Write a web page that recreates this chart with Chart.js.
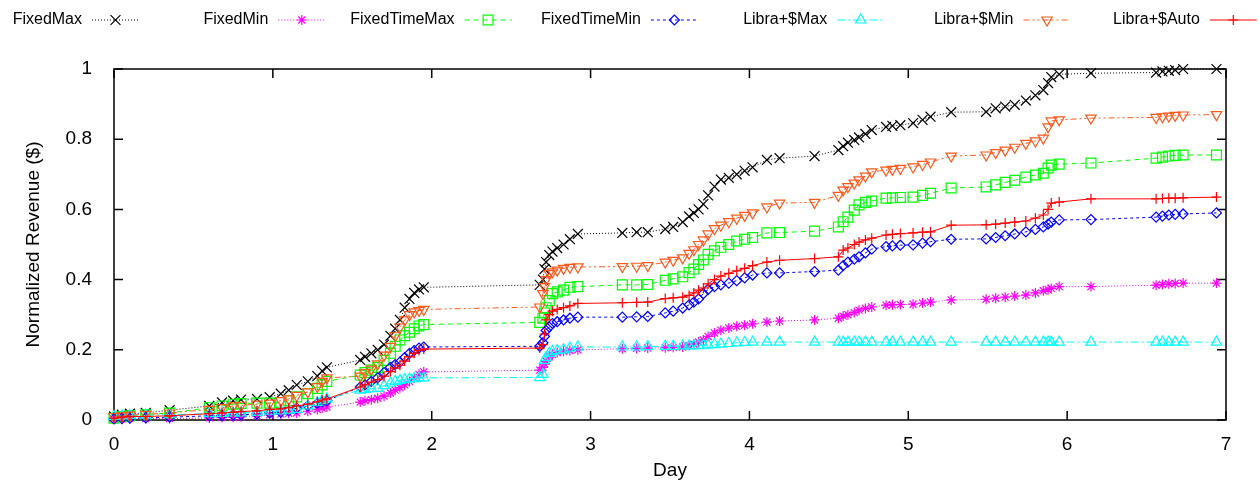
<!DOCTYPE html>
<html>
<head>
<meta charset="utf-8">
<script src="https://cdn.jsdelivr.net/npm/chart.js@4/dist/chart.umd.min.js"></script>
<style>
  html, body { margin: 0; padding: 0; background: #ffffff; }
  #wrap { width: 1260px; height: 484px; }
</style>
</head>
<body>
<div id="wrap"><canvas id="revenue" width="1260" height="484"></canvas></div>
<script>
// Time of each revenue sample (days since start)
const days = [
  0, 0.05, 0.1, 0.2, 0.35, 0.6, 0.68, 0.75, 0.8, 0.9,
  0.98, 1.05, 1.1, 1.15, 1.22, 1.28, 1.31, 1.34, 1.55, 1.58,
  1.62, 1.66, 1.7, 1.74, 1.77, 1.8, 1.83, 1.86, 1.89, 1.92,
  1.95, 2.68, 2.7, 2.71, 2.72, 2.74, 2.76, 2.79, 2.83, 2.87,
  2.92, 3.2, 3.29, 3.36, 3.47, 3.52, 3.58, 3.62, 3.65, 3.68,
  3.71, 3.74, 3.78, 3.82, 3.87, 3.92, 3.97, 4.02, 4.11, 4.19,
  4.41, 4.56, 4.59, 4.62, 4.66, 4.69, 4.73, 4.77, 4.86, 4.9,
  4.95, 5.03, 5.09, 5.14, 5.27, 5.49, 5.55, 5.61, 5.67, 5.74,
  5.8, 5.85, 5.88, 5.9, 5.95, 6.15, 6.56, 6.6, 6.64, 6.68,
  6.73, 6.94
];

// Cumulative normalized revenue per policy
const fixedMax = [
  0.01, 0.015, 0.018, 0.02, 0.028, 0.04, 0.05, 0.055, 0.058, 0.06,
  0.065, 0.075, 0.085, 0.1, 0.11, 0.125, 0.14, 0.15, 0.171, 0.18,
  0.19, 0.2, 0.215, 0.24, 0.26, 0.285, 0.32, 0.345, 0.362, 0.372,
  0.378, 0.385, 0.4, 0.43, 0.45, 0.47, 0.48, 0.49, 0.5, 0.515,
  0.53, 0.533, 0.535, 0.535, 0.544, 0.55, 0.564, 0.58, 0.59, 0.6,
  0.615, 0.64, 0.665, 0.685, 0.69, 0.7, 0.71, 0.72, 0.741, 0.746,
  0.752, 0.769, 0.78, 0.79, 0.798, 0.805, 0.815, 0.826, 0.835, 0.838,
  0.84, 0.846, 0.855, 0.864, 0.877, 0.878, 0.888, 0.893, 0.898, 0.91,
  0.925, 0.94, 0.96, 0.977, 0.985, 0.988, 0.99, 0.993, 0.995, 0.997,
  1.0, 1.0
];
const fixedMin = [
  0.003, 0.003, 0.004, 0.004, 0.004, 0.006, 0.007, 0.008, 0.009, 0.012,
  0.015, 0.017, 0.019, 0.02, 0.025, 0.03, 0.034, 0.037, 0.051, 0.055,
  0.058, 0.062, 0.068, 0.077, 0.085, 0.092, 0.1, 0.11, 0.12, 0.13,
  0.137, 0.142, 0.15, 0.16, 0.168, 0.18, 0.187, 0.192, 0.196, 0.198,
  0.2, 0.203, 0.204, 0.205, 0.206, 0.207, 0.208, 0.212, 0.216, 0.222,
  0.228, 0.238, 0.248, 0.256, 0.262, 0.267, 0.27, 0.274, 0.279, 0.282,
  0.285, 0.29, 0.296, 0.3, 0.306, 0.313, 0.318, 0.322, 0.327, 0.328,
  0.329, 0.33, 0.333, 0.336, 0.342, 0.344, 0.347, 0.35, 0.353, 0.356,
  0.362, 0.368, 0.372, 0.375, 0.38, 0.38, 0.384, 0.386, 0.388, 0.389,
  0.39, 0.39
];
const fixedTimeMax = [
  0.005, 0.01, 0.012, 0.015, 0.02, 0.035, 0.04, 0.045, 0.047, 0.048,
  0.048, 0.05, 0.055, 0.066, 0.075, 0.09, 0.1, 0.11, 0.128, 0.135,
  0.142, 0.15, 0.17, 0.19, 0.21, 0.228, 0.24, 0.25, 0.26, 0.268,
  0.272, 0.278, 0.29, 0.305, 0.32, 0.34, 0.36, 0.365, 0.37, 0.378,
  0.38, 0.385, 0.385, 0.386, 0.398, 0.402, 0.408, 0.42, 0.43, 0.443,
  0.456, 0.472, 0.482, 0.492, 0.5, 0.51, 0.515, 0.52, 0.533, 0.534,
  0.538, 0.55, 0.565, 0.578, 0.598, 0.613, 0.62, 0.624, 0.632, 0.633,
  0.634, 0.635, 0.64, 0.646, 0.661, 0.664, 0.67, 0.677, 0.683, 0.692,
  0.698, 0.703, 0.718, 0.726, 0.729, 0.732, 0.746, 0.749, 0.752, 0.754,
  0.755, 0.755
];
const fixedTimeMin = [
  0.003, 0.004, 0.005, 0.006, 0.008, 0.012, 0.013, 0.014, 0.015, 0.017,
  0.02, 0.022, 0.026, 0.034, 0.04, 0.048, 0.052, 0.055, 0.094, 0.1,
  0.11, 0.12, 0.135, 0.15, 0.158, 0.165, 0.178, 0.19, 0.198, 0.205,
  0.208, 0.21, 0.22, 0.238, 0.255, 0.265, 0.275, 0.28, 0.285, 0.29,
  0.293, 0.293, 0.294, 0.295, 0.305, 0.31, 0.319, 0.328, 0.336, 0.345,
  0.36, 0.372, 0.38, 0.385, 0.39, 0.397, 0.405, 0.413, 0.419, 0.419,
  0.423, 0.427, 0.44, 0.45, 0.458, 0.465, 0.476, 0.487, 0.494, 0.496,
  0.498, 0.499, 0.504, 0.508, 0.515, 0.516, 0.52, 0.525, 0.53, 0.536,
  0.543, 0.55, 0.558, 0.564, 0.57, 0.571, 0.578, 0.581, 0.584, 0.586,
  0.587, 0.59
];
const libraMax = [
  0.01, 0.012, 0.013, 0.014, 0.015, 0.018, 0.019, 0.02, 0.02, 0.022,
  0.025, 0.026, 0.028, 0.03, 0.04, 0.05, 0.055, 0.06, 0.085, 0.087,
  0.089, 0.09, 0.098, 0.105, 0.11, 0.113, 0.115, 0.117, 0.118, 0.12,
  0.12, 0.121, 0.13, 0.17, 0.178, 0.19, 0.195, 0.198, 0.2, 0.205,
  0.208, 0.208, 0.208, 0.209, 0.21, 0.21, 0.211, 0.211, 0.212, 0.212,
  0.213, 0.214, 0.215, 0.216, 0.218, 0.22, 0.221, 0.222, 0.222, 0.222,
  0.222, 0.222, 0.222, 0.222, 0.222, 0.222, 0.222, 0.222, 0.222, 0.222,
  0.222, 0.222, 0.222, 0.222, 0.222, 0.222, 0.222, 0.222, 0.222, 0.222,
  0.222, 0.222, 0.222, 0.222, 0.222, 0.222, 0.222, 0.222, 0.222, 0.222,
  0.222, 0.222
];
const libraMin = [
  0.01, 0.012, 0.014, 0.016, 0.02, 0.03, 0.035, 0.04, 0.042, 0.045,
  0.048, 0.055, 0.06, 0.07, 0.08, 0.095, 0.11, 0.12, 0.125, 0.135,
  0.145, 0.16, 0.185, 0.21, 0.24, 0.265, 0.285, 0.3, 0.308, 0.312,
  0.315, 0.322, 0.36, 0.38, 0.4, 0.418, 0.422, 0.427, 0.432, 0.435,
  0.436, 0.437, 0.438, 0.44, 0.45, 0.455, 0.462, 0.475, 0.485, 0.5,
  0.513, 0.53, 0.545, 0.555, 0.565, 0.575, 0.583, 0.59, 0.607, 0.618,
  0.62, 0.64, 0.655, 0.665, 0.675, 0.684, 0.695, 0.707, 0.712, 0.714,
  0.717, 0.721, 0.728, 0.735, 0.752, 0.755, 0.762, 0.769, 0.777, 0.788,
  0.795, 0.803, 0.835, 0.852, 0.855, 0.86, 0.862, 0.864, 0.866, 0.868,
  0.869, 0.87
];
const libraAuto = [
  0.005, 0.008, 0.01, 0.01, 0.012, 0.018, 0.02, 0.022, 0.024, 0.026,
  0.03, 0.032, 0.035, 0.04, 0.045, 0.052, 0.057, 0.06, 0.094, 0.1,
  0.108, 0.115, 0.125, 0.138, 0.148, 0.156, 0.168, 0.18, 0.19, 0.198,
  0.202, 0.205, 0.215, 0.245, 0.285, 0.3, 0.31, 0.315, 0.32, 0.325,
  0.332, 0.334, 0.335, 0.336, 0.346, 0.348, 0.35, 0.355, 0.362, 0.37,
  0.376, 0.388, 0.4, 0.41, 0.418, 0.425, 0.432, 0.44, 0.45, 0.455,
  0.46, 0.465, 0.484, 0.49, 0.5, 0.507, 0.513, 0.518, 0.527, 0.529,
  0.531, 0.533, 0.535, 0.536, 0.555, 0.556, 0.558, 0.561, 0.564, 0.567,
  0.575, 0.584, 0.6, 0.618, 0.621, 0.63, 0.63, 0.631, 0.632, 0.632,
  0.633, 0.635
];

const seriesNames = ['FixedMax', 'FixedMin', 'FixedTimeMax', 'FixedTimeMin', 'Libra+$Max', 'Libra+$Min', 'Libra+$Auto'];
const seriesValues = [fixedMax, fixedMin, fixedTimeMax, fixedTimeMin, libraMax, libraMin, libraAuto];

const xTickLabels = ['0', '1', '2', '3', '4', '5', '6', '7'];
const yTickLabels = ['0', '0.2', '0.4', '0.6', '0.8', '1'];

// Line and marker look of each policy
const seriesStyles = [
  { color: '#000000', dash: [1, 2],             marker: 'crossRot', radius: 7, rotation: 0 },
  { color: '#ff00ff', dash: [1, 2],             marker: 'star',     radius: 5, rotation: 0 },
  { color: '#00ff00', dash: [5, 4],             marker: 'rect',     radius: 7, rotation: 0 },
  { color: '#0000ff', dash: [3, 3],             marker: 'rectRot',  radius: 5, rotation: 0 },
  { color: '#00ffff', dash: [8, 3, 2, 3],       marker: 'triangle', radius: 6, rotation: 0 },
  { color: '#ff5a1e', dash: [6, 3, 2, 3, 2, 3], marker: 'triangle', radius: 6, rotation: 180 },
  { color: '#ff0000', dash: [],                 marker: 'cross',    radius: 5, rotation: 0 }
];

const FONT = '"Liberation Sans", Arial, Helvetica, sans-serif';
Chart.defaults.font.family = FONT;
Chart.defaults.color = '#000000';

const datasets = seriesNames.map((name, i) => {
  const st = seriesStyles[i];
  return {
    label: name,
    data: days.map((d, k) => ({ x: d, y: seriesValues[i][k] })),
    borderColor: st.color,
    borderWidth: 1,
    borderDash: st.dash,
    backgroundColor: 'rgba(0,0,0,0)',
    pointStyle: st.marker,
    pointRadius: st.radius,
    pointRotation: st.rotation,
    pointBorderColor: st.color,
    pointBackgroundColor: 'rgba(0,0,0,0)',
    pointBorderWidth: 1.2,
    tension: 0,
    fill: false,
    clip: false,
    order: seriesNames.length - i
  };
});

// Plot border with inward ticks on all four sides
const frame = {
  id: 'frame',
  beforeDatasetsDraw(chart) {
    const { ctx, chartArea: a, scales } = chart;
    const xs = scales.x, ys = scales.y;
    const len = 9;
    ctx.save();
    ctx.strokeStyle = '#000000';
    ctx.lineWidth = 1.5;
    ctx.setLineDash([]);
    ctx.strokeRect(a.left, a.top, a.right - a.left, a.bottom - a.top);
    ctx.beginPath();
    xs.ticks.forEach(t => {
      const px = xs.getPixelForValue(t.value);
      ctx.moveTo(px, a.bottom); ctx.lineTo(px, a.bottom - len);
      ctx.moveTo(px, a.top); ctx.lineTo(px, a.top + len);
    });
    ys.ticks.forEach(t => {
      const py = ys.getPixelForValue(t.value);
      ctx.moveTo(a.left, py); ctx.lineTo(a.left + len, py);
      ctx.moveTo(a.right, py); ctx.lineTo(a.right - len, py);
    });
    ctx.stroke();
    ctx.restore();
  }
};

// Single-row key above the plot: label, then a line sample with its marker
const keyRow = {
  id: 'keyRow',
  afterDraw(chart) {
    const ctx = chart.ctx;
    const firstEnd = 139, step = 186.3, sampleLen = 47, gap = 10, y = 20;
    chart.data.datasets.forEach((ds, i) => {
      const end = firstEnd + step * i;
      const start = end - sampleLen;
      ctx.save();
      ctx.font = '16px ' + FONT;
      ctx.fillStyle = '#000000';
      ctx.textAlign = 'right';
      ctx.textBaseline = 'middle';
      ctx.fillText(ds.label, start - gap, y);
      ctx.strokeStyle = ds.borderColor;
      ctx.lineWidth = 1;
      ctx.setLineDash(ds.borderDash);
      ctx.beginPath();
      ctx.moveTo(start, y);
      ctx.lineTo(end, y);
      ctx.stroke();
      ctx.setLineDash([]);
      ctx.lineWidth = 1.2;
      ctx.fillStyle = 'rgba(0,0,0,0)';
      Chart.helpers.drawPoint(ctx, {
        pointStyle: ds.pointStyle,
        radius: ds.pointRadius,
        rotation: ds.pointRotation,
        borderWidth: 1.2
      }, (start + end) / 2, y);
      ctx.restore();
    });
  }
};

new Chart(document.getElementById('revenue'), {
  type: 'line',
  data: { datasets },
  plugins: [frame, keyRow],
  options: {
    responsive: false,
    animation: false,
    devicePixelRatio: 1,
    layout: { padding: { left: 0, right: 34, top: 69, bottom: 0 } },
    plugins: { legend: { display: false }, tooltip: { enabled: false } },
    scales: {
      x: {
        type: 'linear',
        min: 0,
        max: 7,
        grid: { display: false },
        border: { display: false },
        ticks: {
          stepSize: 1,
          padding: 5,
          maxRotation: 0,
          font: { size: 19 },
          color: '#000000',
          callback: v => xTickLabels[Math.round(v)]
        },
        title: { display: true, text: 'Day', font: { size: 19 }, color: '#000000', padding: { top: 4, bottom: 2 } },
        afterFit(scale) { scale.height = 64; }
      },
      y: {
        type: 'linear',
        min: 0,
        max: 1,
        grid: { display: false },
        border: { display: false },
        ticks: {
          stepSize: 0.2,
          padding: 14,
          font: { size: 19 },
          color: '#000000',
          callback: v => yTickLabels[Math.round(v / 0.2)]
        },
        title: { display: true, text: 'Normalized Revenue ($)', font: { size: 19 }, color: '#000000', padding: { top: 22, bottom: 0 } },
        afterFit(scale) { scale.width = 114; }
      }
    }
  }
});
</script>
</body>
</html>
